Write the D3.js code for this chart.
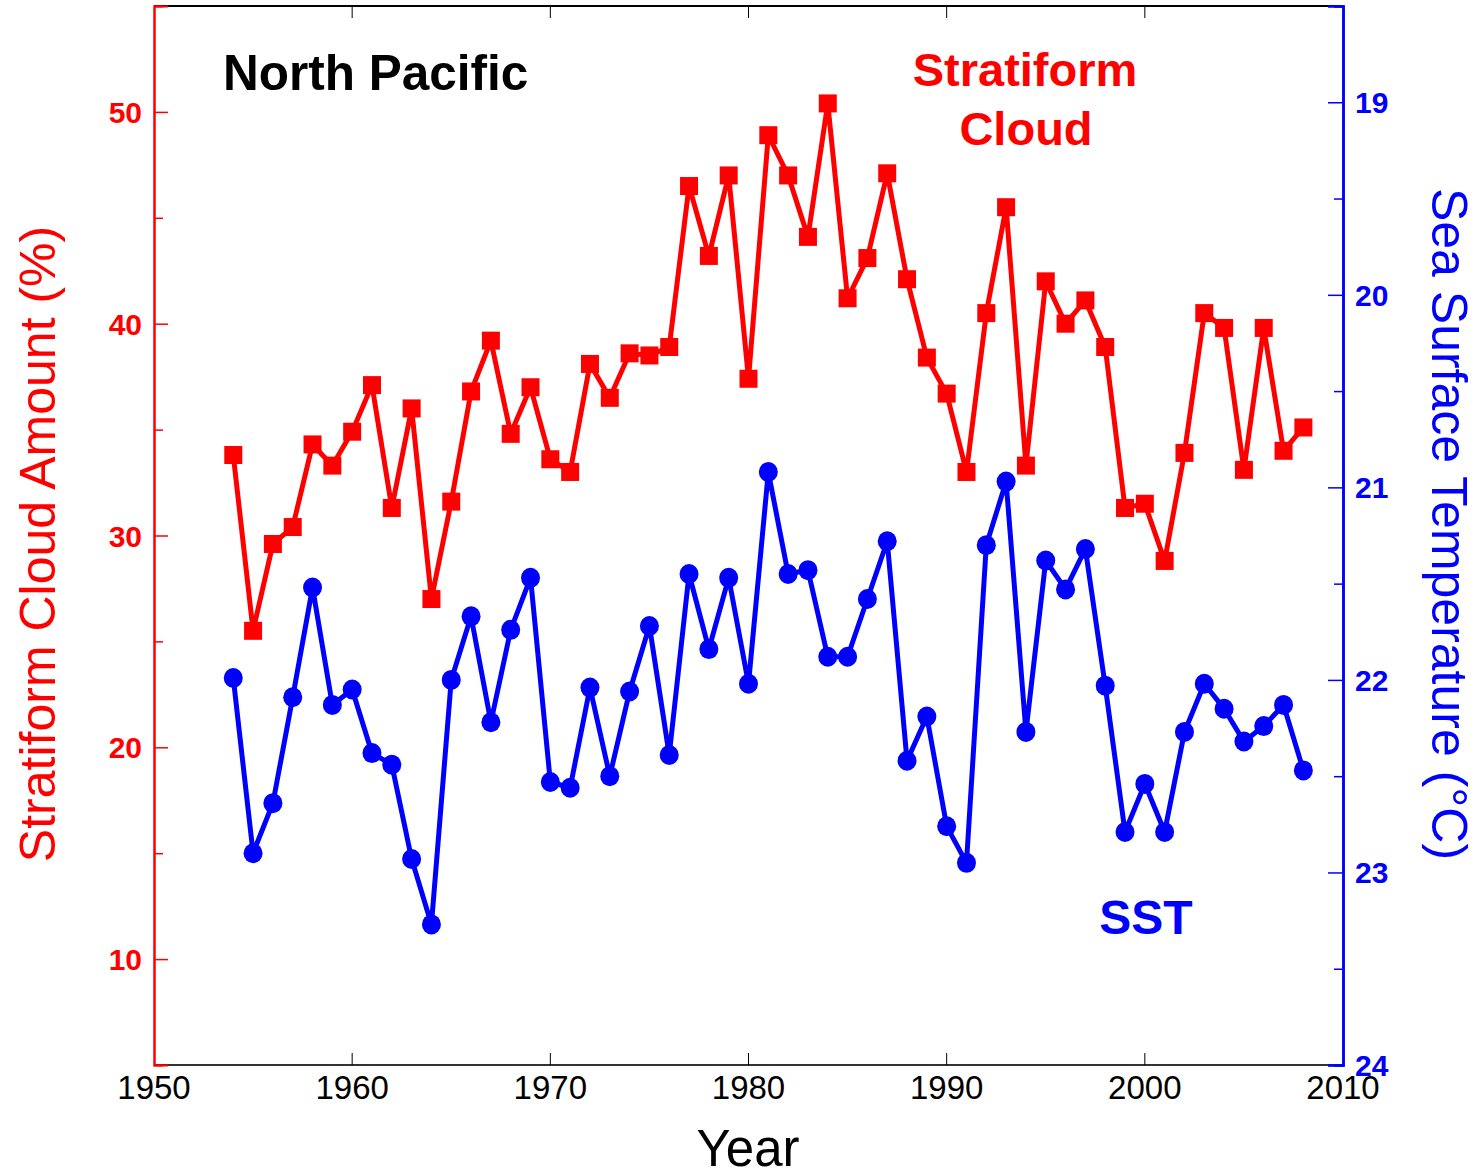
<!DOCTYPE html>
<html>
<head>
<meta charset="utf-8">
<script src="https://cdn.jsdelivr.net/npm/d3@7"></script>
<style>
  body { margin: 0; background: #fff; }
  svg { display: block; font-family: "Liberation Sans", Arial, Helvetica, sans-serif; }
</style>
</head>
<body>
<div id="chart"></div>
<script>
// years 1954-2008
const years = [1954,1955,1956,1957,1958,1959,1960,1961,1962,1963,1964,1965,1966,1967,1968,1969,
  1970,1971,1972,1973,1974,1975,1976,1977,1978,1979,1980,1981,1982,1983,1984,1985,1986,1987,1988,1989,
  1990,1991,1992,1993,1994,1995,1996,1997,1998,1999,2000,2001,2002,2003,2004,2005,2006,2007,2008];

// stratiform cloud amount (%)
const cloud = [33.8,25.5,29.6,30.4,34.3,33.3,34.9,37.1,31.3,36.0,27.0,31.6,36.8,39.2,34.8,37.0,
  33.6,33.0,38.1,36.5,38.6,38.5,38.9,46.5,43.2,47.0,37.4,48.9,47.0,44.1,50.4,41.2,43.1,47.1,42.1,38.4,
  36.7,33.0,40.5,45.5,33.3,42.0,40.0,41.1,38.9,31.3,31.5,28.8,33.9,40.5,39.8,33.1,39.8,34.0,35.1];

// sea surface temperature (deg C)
const sst = [21.99,22.90,22.64,22.09,21.52,22.13,22.05,22.38,22.44,22.93,23.27,22.00,21.67,22.22,21.74,21.47,
  22.53,22.56,22.04,22.50,22.06,21.72,22.39,21.45,21.84,21.47,22.02,20.92,21.45,21.43,21.88,21.88,21.58,21.28,22.42,22.19,
  22.76,22.95,21.30,20.97,22.27,21.38,21.53,21.32,22.03,22.79,22.54,22.79,22.27,22.02,22.15,22.32,22.24,22.13,22.47];

const xTicks = [1950,1960,1970,1980,1990,2000,2010];
const leftTicks = [10,20,30,40,50];
const leftMinor = [15,25,35,45];
const rightTicks = [19,20,21,22,23,24];
const rightMinor = [19.5,20.5,21.5,22.5,23.5];

const W = 1480, H = 1174;
const plot = { left: 154, right: 1343, top: 6, bottom: 1065 };
const RED = "#ff0000", BLUE = "#0000ff";

const svg = d3.select("#chart").append("svg").attr("width", W).attr("height", H);

const x = d3.scaleLinear().domain([1950, 2010]).range([plot.left, plot.right]);
const yL = d3.scaleLinear().domain([5, 55]).range([plot.bottom, plot.top]);
const yR = d3.scaleLinear().domain([24, 18.5]).range([plot.bottom, plot.top]);

// frame
svg.append("line").attr("x1", plot.left).attr("x2", plot.right).attr("y1", plot.top).attr("y2", plot.top)
  .attr("stroke", "#000").attr("stroke-width", 2);
svg.append("line").attr("x1", plot.left).attr("x2", plot.right).attr("y1", plot.bottom).attr("y2", plot.bottom)
  .attr("stroke", "#333").attr("stroke-width", 2);

// x ticks top and bottom
xTicks.slice(1, -1).forEach(t => {
  svg.append("line").attr("x1", x(t)).attr("x2", x(t)).attr("y1", plot.top).attr("y2", plot.top + 12)
    .attr("stroke", "#000").attr("stroke-width", 1);
  svg.append("line").attr("x1", x(t)).attr("x2", x(t)).attr("y1", plot.bottom).attr("y2", plot.bottom - 12)
    .attr("stroke", "#000").attr("stroke-width", 1);
});
svg.append("g").selectAll("text").data(xTicks).join("text")
  .attr("x", d => x(d)).attr("y", 1099)
  .attr("text-anchor", "middle").attr("font-size", 33).attr("fill", "#000")
  .text(d => d);

// left axis
const gl = svg.append("g").attr("transform", `translate(${plot.left},0)`);
gl.call(d3.axisRight(yL).tickValues(leftTicks).tickSize(14).tickFormat(""));
gl.append("g").call(d3.axisRight(yL).tickValues(leftMinor).tickSize(9).tickFormat(""));
gl.selectAll(".domain").attr("stroke", RED).attr("stroke-width", 2);
gl.selectAll(".tick line").attr("stroke", RED).attr("stroke-width", 1.5);
svg.append("g").selectAll("text").data(leftTicks).join("text")
  .attr("x", plot.left - 12).attr("y", d => yL(d) + 11)
  .attr("text-anchor", "end").attr("font-size", 30).attr("font-weight", "bold").attr("fill", RED)
  .text(d => d);

// right axis
const gr = svg.append("g").attr("transform", `translate(${plot.right},0)`);
gr.call(d3.axisLeft(yR).tickValues(rightTicks).tickSize(15).tickFormat(""));
gr.append("g").call(d3.axisLeft(yR).tickValues(rightMinor).tickSize(9).tickFormat(""));
gr.selectAll(".domain").attr("stroke", BLUE).attr("stroke-width", 2.5);
gr.selectAll(".tick line").attr("stroke", BLUE).attr("stroke-width", 1.5);
svg.append("g").selectAll("text").data(rightTicks).join("text")
  .attr("x", plot.right + 12).attr("y", d => yR(d) + 11)
  .attr("font-size", 30).attr("font-weight", "bold").attr("fill", BLUE)
  .text(d => d);

// series lines
const cloudLine = d3.line().x((d, i) => x(years[i])).y(d => yL(d));
const sstLine = d3.line().x((d, i) => x(years[i])).y(d => yR(d));

svg.append("path").datum(sst).attr("d", sstLine)
  .attr("fill", "none").attr("stroke", BLUE).attr("stroke-width", 5).attr("stroke-linejoin", "miter");
svg.append("g").selectAll("ellipse").data(sst).join("ellipse")
  .attr("cx", (d, i) => x(years[i])).attr("cy", d => yR(d))
  .attr("rx", 9.5).attr("ry", 10).attr("fill", BLUE);

svg.append("path").datum(cloud).attr("d", cloudLine)
  .attr("fill", "none").attr("stroke", RED).attr("stroke-width", 5).attr("stroke-linejoin", "miter");
svg.append("g").selectAll("rect").data(cloud).join("rect")
  .attr("x", (d, i) => x(years[i]) - 9).attr("y", d => yL(d) - 9)
  .attr("width", 18).attr("height", 18).attr("fill", RED);

// annotations
svg.append("text").attr("x", 223).attr("y", 90)
  .attr("font-size", 49.5).attr("font-weight", "bold").attr("fill", "#000")
  .text("North Pacific");
svg.append("text").attr("x", 1025).attr("y", 86).attr("text-anchor", "middle")
  .attr("font-size", 47).attr("font-weight", "bold").attr("fill", RED).text("Stratiform");
svg.append("text").attr("x", 1026).attr("y", 145).attr("text-anchor", "middle")
  .attr("font-size", 47).attr("font-weight", "bold").attr("fill", RED).text("Cloud");
svg.append("text").attr("x", 1146).attr("y", 934).attr("text-anchor", "middle")
  .attr("font-size", 48).attr("font-weight", "bold").attr("fill", BLUE).text("SST");

// axis titles
svg.append("text").attr("x", 748).attr("y", 1166).attr("text-anchor", "middle")
  .attr("font-size", 51).attr("fill", "#000").text("Year");
svg.append("text").attr("transform", "translate(55,544) rotate(-90)").attr("text-anchor", "middle")
  .attr("font-size", 50).attr("fill", RED).text("Stratiform Cloud Amount (%)");
svg.append("text").attr("transform", "translate(1432,524) rotate(90)").attr("text-anchor", "middle")
  .attr("font-size", 50).attr("fill", BLUE).text("Sea Surface Temperature (°C)");
</script>
</body>
</html>
